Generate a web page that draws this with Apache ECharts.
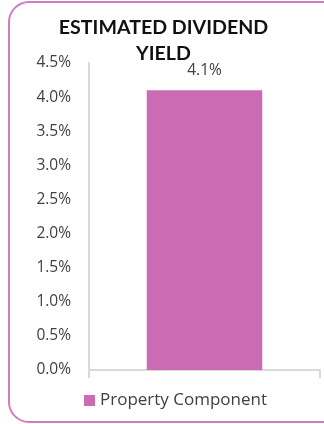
<!DOCTYPE html>
<html>
<head>
<meta charset="utf-8">
<script src="https://cdn.jsdelivr.net/npm/echarts@6/dist/echarts.min.js"></script>
<style>
  html, body { margin: 0; padding: 0; background: #fff; }
  #chart { width: 324px; height: 424px; }
</style>
</head>
<body>
<div id="chart"></div>
<script>
// Estimated dividend yield, one component
const categories = ['Property Component'];
const yieldValues = [4.1];
const seriesName = 'Property Component';
const titleLines = ['ESTIMATED DIVIDEND', 'YIELD'];

const chart = echarts.init(document.getElementById('chart'), null, { renderer: 'canvas' });

chart.setOption({
  animation: false,
  backgroundColor: '#ffffff',
  textStyle: { fontFamily: 'Lato, "Open Sans", sans-serif' },
  graphic: [{
    type: 'rect',
    shape: { x: 9, y: 2, width: 340, height: 420, r: 20 },
    style: { fill: 'none', stroke: '#d27cc2', lineWidth: 2 },
    silent: true,
    z: -1
  }, {
    // two-line centred heading
    type: 'text',
    x: 163.5,
    y: 15,
    silent: true,
    style: {
      text: titleLines.join('\n'),
      textAlign: 'center',
      textVerticalAlign: 'top',
      font: 'bold 19.6px Lato, sans-serif',
      lineHeight: 26,
      fill: '#111111'
    }
  }],
  legend: {
    data: [seriesName],
    top: 392,
    left: 84,
    itemWidth: 11,
    itemHeight: 11,
    itemGap: 4,
    icon: 'rect',
    padding: 0,
    textStyle: { fontSize: 17, color: '#404040', fontFamily: '"Open Sans", sans-serif' }
  },
  grid: { left: 89, right: 4, top: 63, bottom: 54, containLabel: false },
  xAxis: {
    type: 'category',
    data: categories,
    axisLine: { lineStyle: { color: '#d9d9d9', width: 2 } },
    axisTick: { show: true, alignWithLabel: false, length: 8, lineStyle: { color: '#d9d9d9', width: 2 } },
    axisLabel: { show: false }
  },
  yAxis: {
    type: 'value',
    min: 0,
    max: 4.5,
    interval: 0.5,
    axisLine: { show: true, lineStyle: { color: '#d9d9d9', width: 2 } },
    axisTick: { show: false },
    splitLine: { show: false },
    axisLabel: {
      formatter: v => v.toFixed(1) + '%',
      fontSize: 15.5,
      color: '#404040',
      margin: 18,
      fontFamily: '"Open Sans", sans-serif'
    }
  },
  series: [{
    name: seriesName,
    type: 'bar',
    data: yieldValues,
    barWidth: '50%',
    itemStyle: { color: '#cb6bb3' },
    label: {
      show: true,
      position: 'top',
      distance: 12,
      formatter: p => p.value.toFixed(1) + '%',
      fontSize: 15.5,
      color: '#404040',
      fontFamily: '"Open Sans", sans-serif'
    }
  }]
});
</script>
</body>
</html>
